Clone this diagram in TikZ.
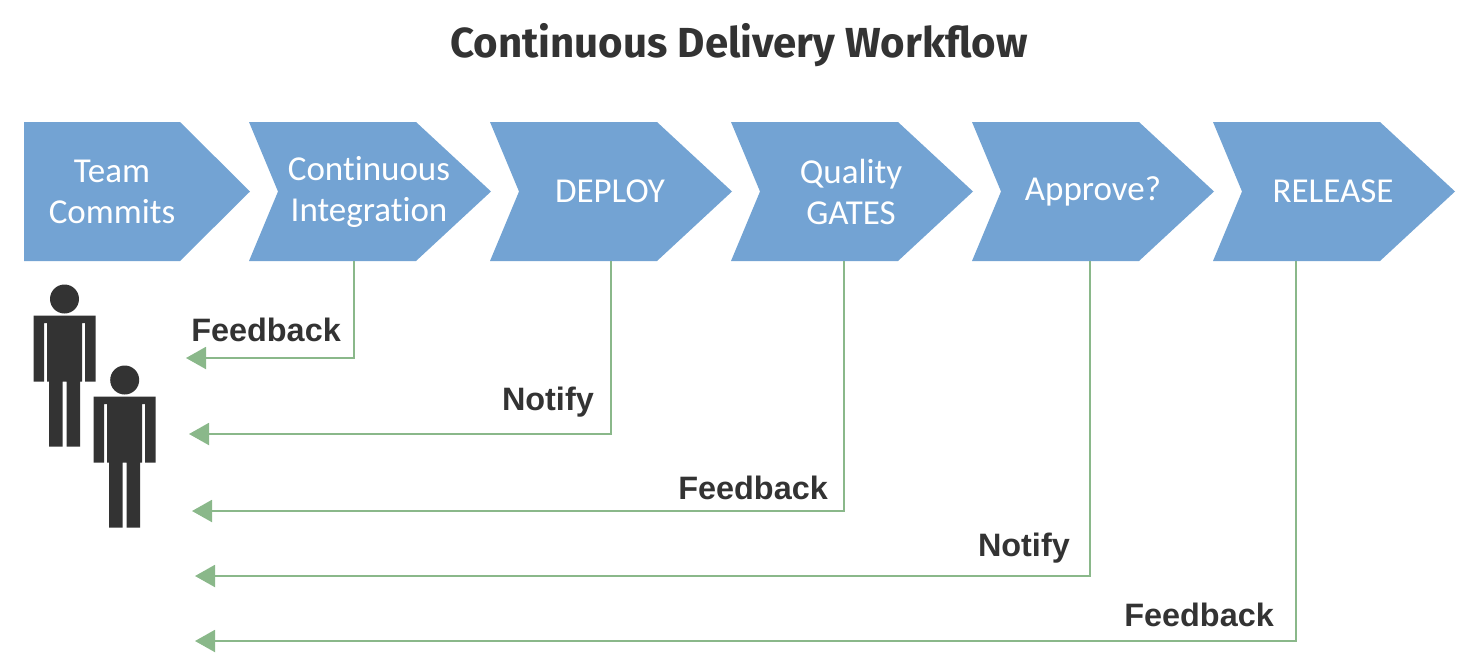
\documentclass[tikz,border=0pt]{standalone}
\usepackage{fontspec}
\setmainfont{Liberation Sans}
\newfontfamily\TitleType{Fira Sans}
\newfontfamily\StepType[Ligatures=NoCommon]{Carlito}
\usetikzlibrary{arrows.meta}
\definecolor{cdBlue}{HTML}{73A3D3}
\definecolor{cdGreen}{HTML}{8AB88A}
\definecolor{cdInk}{HTML}{333333}
\tikzset{cd/base/.style={x=1pt,y=-1pt,line cap=butt,line join=miter,
  every node/.style={inner sep=0pt}},
  cd/chevron/.style={fill=cdBlue,draw=none},
  cd/stepbox/.style={minimum width=140pt,minimum height=139pt,align=center,text=white,
    font=\StepType\fontsize{35}{41}\selectfont},
  cd/feedback/.style={-{Triangle[length=20pt,width=22pt]},draw=cdGreen,line width=2pt},
  cd/label/.style={anchor=east,text=cdInk,font=\bfseries\fontsize{32.4}{36}\selectfont},
  cd/person/.pic={
    \fill[cdInk] (0,0) circle (14.5);
    \fill[cdInk] (-31,16.5) -- (31,16.5) -- (31,82.5) -- (20.5,82.5) -- (20.5,24) -- (17.5,24)
      -- (17.5,82.5) -- (15.5,82.5) -- (15.5,147.5) -- (2,147.5) -- (2,82.5) -- (-2,82.5)
      -- (-2,147.5) -- (-15.5,147.5) -- (-15.5,82.5) -- (-17.5,82.5) -- (-17.5,24) -- (-20.5,24)
      -- (-20.5,82.5) -- (-31,82.5) -- cycle;}}

\begin{document}
\begin{tikzpicture}[cd/base]
  \useasboundingbox (0,0) rectangle (1473,665);
  \node[anchor=center,text=cdInk,font=\TitleType\bfseries\fontsize{42}{48}\selectfont] (title) at (739,45) {Continuous Delivery Workflow};
  % first one has a flat back
  \path[cd/chevron] (24,122) -- (180,122) -- (250,191.5) -- (180,261) -- (24,261) -- cycle;
  \foreach \x in {249,490,731,972,1213}{
    \path[cd/chevron] (\x,122) -- ({\x+167},122) -- ({\x+242},191.5) -- ({\x+167},261)
      -- (\x,261) -- ({\x+29},191.5) -- cycle;}
  \node[cd/stepbox] (team) at (112,191.5) {Team\\Commits};
  \node[cd/stepbox] (integration) at (369,191.5) {Continuous\\Integration};
  \node[cd/stepbox] (deploy) at (610,191.5) {DEPLOY};
  \node[cd/stepbox] (gates) at (851,191.5) {Quality\\GATES};
  \node[cd/stepbox] (approve) at (1093,191.5) {Approve?};
  \node[cd/stepbox] (release) at (1333,191.5) {RELEASE};
  \pic at (64.5,299) {cd/person};
  \pic at (124.7,380) {cd/person};
  \coordinate (end1) at (186,358);
  \coordinate (end2) at (189,434);
  \coordinate (end3) at (192,511);
  \coordinate (end4) at (195,576);
  \coordinate (end5) at (195,641);
  \draw[cd/feedback] ([xshift=-15pt]integration.south) |- (end1);
  \draw[cd/feedback] ([xshift=1pt]deploy.south) |- (end2);
  \draw[cd/feedback] ([xshift=-7pt]gates.south) |- (end3);
  \draw[cd/feedback] ([xshift=-3.5pt]approve.south) |- (end4);
  \draw[cd/feedback] ([xshift=-37pt]release.south) |- (end5);
  \node[cd/label] (fb1) at (341,330) {Feedback};
  \node[cd/label] (nt1) at (594,402) {Notify};
  \node[cd/label] (fb2) at (828,488) {Feedback};
  \node[cd/label] (nt2) at (1070,548) {Notify};
  \node[cd/label] (fb3) at (1274,615) {Feedback};
\end{tikzpicture}
\end{document}
